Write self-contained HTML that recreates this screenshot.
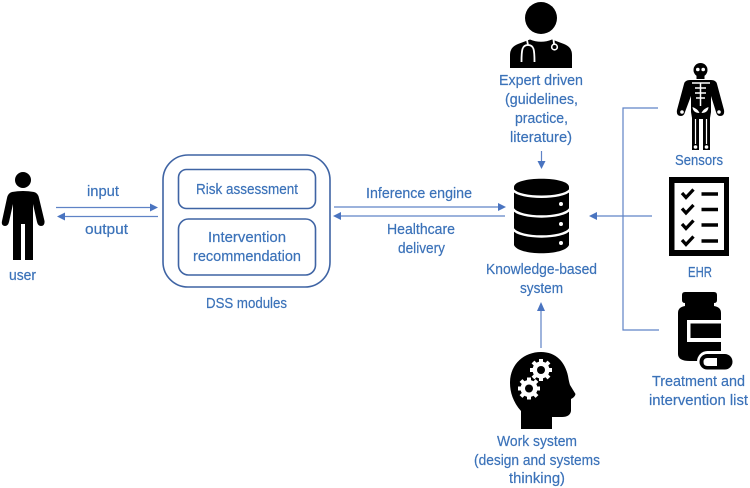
<!DOCTYPE html>
<html><head><meta charset="utf-8"><style>
html,body{margin:0;padding:0;background:#fff}
svg{display:block}
text{font-family:"Liberation Sans",sans-serif;font-size:14.5px;fill:#3b72b9;stroke:#3b72b9;stroke-width:.2;text-anchor:middle}
.l{stroke:#5f83c6;stroke-width:1.2;fill:none}
.a{fill:#4a74c0}
.b{fill:none;stroke:#3f64a4;stroke-width:1.6}
</style></head><body>
<svg width="750" height="488" viewBox="0 0 750 488" xmlns="http://www.w3.org/2000/svg">
<rect width="750" height="488" fill="#fff"/>
<!-- user -->
<g fill="#000">
<circle cx="23" cy="180" r="8"/>
<path d="M12 192 Q23 190 34 192 Q38 193 39 198 L44.500 221 Q45 226 41 226 Q38 226 37 222 L33 204 L33 260 L25 260 L25 224 L21 224 L21 260 L13 260 L13 204 L9 222 Q8 226 5 226 Q1 226 2 221 L7 198 Q8 193 12 192Z"/>
</g>
<!-- DSS -->
<rect class="b" x="163" y="155" width="167" height="132" rx="25"/>
<rect class="b" x="178.500" y="169.500" width="137" height="39" rx="8"/>
<rect class="b" x="178.500" y="219" width="137" height="56" rx="10"/>
<!-- arrows -->
<path class="l" d="M56 207.500H152M64 216.500H158M334 207H499M341 216H505"/>
<path class="a" d="M158 207.500L150 203.500V211.500ZM57 216.500L65 212.500V220.500ZM506 207L498 203V211ZM333 216L341 212V220Z"/>
<path class="l" d="M541.500 151V163M541 348V309M658 108H623V330H659M652 216H595"/>
<path class="a" d="M541.500 169L537.500 161H545.500ZM541 302L537 311H545ZM589 216L597 212V220Z"/>
<!-- doctor -->
<g>
<circle cx="541" cy="18" r="16" fill="#000"/>
<path d="M510 68V55Q510 47 518 44L530 39.500Q541 44 552 39.500L564 44Q572 47 572 55V68Z" fill="#000"/>
<path d="M527 40L528 45C522 45 521.500 50 521.500 62M528 45C534 45 534.500 50 534.500 62" fill="none" stroke="#fff" stroke-width="1.800"/>
<path d="M553.500 39.500L554 44" stroke="#fff" stroke-width="1.800"/>
<circle cx="554.500" cy="47" r="2.800" fill="none" stroke="#fff" stroke-width="1.600"/>
</g>
<!-- skeleton -->
<g>
<circle cx="700.500" cy="70" r="7" fill="#000"/>
<rect x="696.500" y="74" width="8" height="5" fill="#000"/>
<circle cx="697.800" cy="69.500" r="1.800" fill="#fff"/><circle cx="703.200" cy="69.500" r="1.800" fill="#fff"/>
<path d="M690 80H711Q716 80 717 84L724 110Q725 116 720 116Q717 116 716 112L711 96V112L710 118V150H703V119H699V150H692V118L691 112V96L685 112Q684 116 681 116Q676 116 677 110L684 84Q685 80 690 80Z" fill="#000"/>
<path d="M692 83H710M695 88H706M695 93H706M696 98H705M700.500 83V106" stroke="#fff" stroke-width="1.500" fill="none"/>
<path d="M692.500 107Q698 109 699.500 113Q693 113 692.500 107ZM708.500 107Q703 109 701.500 113Q708 113 708.500 107Z" fill="#fff"/>
<path d="M695.500 119V144M706.500 119V144" stroke="#fff" stroke-width="1.200" fill="none"/>
<circle cx="695.500" cy="147" r="1.800" fill="#fff"/><circle cx="706.500" cy="147" r="1.800" fill="#fff"/>
<circle cx="682" cy="112" r="1.800" fill="#fff"/><circle cx="719" cy="112" r="1.800" fill="#fff"/>
</g>
<!-- database -->
<g>
<path d="M514 187C514 176 569 176 569 187V245C565 256 518 256 514 245Z" fill="#000"/>
<path d="M513 190C520 199 563 199 570 190M513 209C520 219 563 219 570 209M513 229C520 239 563 239 570 229" fill="none" stroke="#fff" stroke-width="2.400"/>
<circle cx="561" cy="204" r="2" fill="#fff"/><circle cx="561" cy="224" r="2" fill="#fff"/><circle cx="561" cy="243" r="2" fill="#fff"/>
</g>
<!-- EHR -->
<g>
<rect x="669" y="177" width="60" height="79" fill="#000"/>
<rect x="674.500" y="183" width="49.500" height="67" fill="#fff"/>
<g fill="none" stroke="#000">
<path stroke-width="3.200" d="M682 193L686 197.500L693.500 189.500M682 208.500L686 213L693.500 205M682 224L686 228.500L693.500 220.500M682 240L686 244.500L693.500 236.500"/>
<path stroke-width="3.600" d="M701.500 194H718M701.500 209.500H718M701.500 225H718M701.500 241H718"/>
</g>
</g>
<!-- bottle -->
<g>
<path d="M685 292H714Q717 292 717 295V300Q717 303 714 303V306Q721 307 721 313V361H690Q678 361 678 354V313Q678 307 685 306V303Q682 303 682 300V295Q682 292 685 292Z" fill="#000"/>
<path d="M721 320H687V342H721V338H690.500V323.500H721Z" fill="#fff"/>
<rect x="697" y="351" width="38" height="21" rx="10.500" fill="#fff"/>
<rect x="699.500" y="354" width="33" height="15.500" rx="7.700" fill="#000"/>
<path d="M707.500 358H717V366H707.500Q703.500 366 703.500 362Q703.500 358 707.500 358Z" fill="#fff"/>
</g>
<!-- head with gears -->
<g>
<path d="M541 352C556 352 565 362 568 376Q569 382 570 385L575.500 394Q575 397 571 399V411Q570 417 562 417H552V429H521V411C513 402 510 392 510 383C510 364 524 352 541 352Z" fill="#000"/>
<g fill="#fff">
<circle cx="541" cy="370" r="8.500"/>
<g stroke="#fff" stroke-width="4"><path d="M541 359V381M530 370H552M533 362L549 378M549 362L533 378"/></g>
<circle cx="529" cy="388.500" r="8.500"/>
<g stroke="#fff" stroke-width="4"><path d="M529 377.500V399.500M518 388.500H540M521 380.500L537 396.500M537 380.500L521 396.500"/></g>
</g>
<circle cx="541" cy="370" r="4" fill="#000"/>
<circle cx="529" cy="388.500" r="4" fill="#000"/>
</g>
<!-- labels -->
<text x="103" y="196" textLength="32" lengthAdjust="spacingAndGlyphs">input</text>
<text x="106.500" y="234" textLength="43" lengthAdjust="spacingAndGlyphs">output</text>
<text x="22.500" y="280" textLength="27" lengthAdjust="spacingAndGlyphs">user</text>
<text x="247" y="194" textLength="102" lengthAdjust="spacingAndGlyphs">Risk assessment</text>
<text x="247" y="242" textLength="78" lengthAdjust="spacingAndGlyphs">Intervention</text>
<text x="247" y="261" textLength="108" lengthAdjust="spacingAndGlyphs">recommendation</text>
<text x="246.500" y="308" textLength="81" lengthAdjust="spacingAndGlyphs">DSS modules</text>
<text x="419" y="198" textLength="106" lengthAdjust="spacingAndGlyphs">Inference engine</text>
<text x="421" y="234" textLength="68" lengthAdjust="spacingAndGlyphs">Healthcare</text>
<text x="421.500" y="253" textLength="47" lengthAdjust="spacingAndGlyphs">delivery</text>
<text x="541" y="85" textLength="84" lengthAdjust="spacingAndGlyphs">Expert driven</text>
<text x="541.500" y="104" textLength="73" lengthAdjust="spacingAndGlyphs">(guidelines,</text>
<text x="541.500" y="123" textLength="53" lengthAdjust="spacingAndGlyphs">practice,</text>
<text x="541" y="142" textLength="62" lengthAdjust="spacingAndGlyphs">literature)</text>
<text x="699" y="165" textLength="48" lengthAdjust="spacingAndGlyphs">Sensors</text>
<text x="541.500" y="274" textLength="111" lengthAdjust="spacingAndGlyphs">Knowledge-based</text>
<text x="541.500" y="293" textLength="43" lengthAdjust="spacingAndGlyphs">system</text>
<text x="700" y="277" textLength="24" lengthAdjust="spacingAndGlyphs">EHR</text>
<text x="698.500" y="386" textLength="93" lengthAdjust="spacingAndGlyphs">Treatment and</text>
<text x="698.500" y="405" textLength="99" lengthAdjust="spacingAndGlyphs">intervention list</text>
<text x="537" y="446" textLength="80" lengthAdjust="spacingAndGlyphs">Work system</text>
<text x="537" y="465" textLength="126" lengthAdjust="spacingAndGlyphs">(design and systems</text>
<text x="537" y="483" textLength="56" lengthAdjust="spacingAndGlyphs">thinking)</text>
</svg>
</body></html>
